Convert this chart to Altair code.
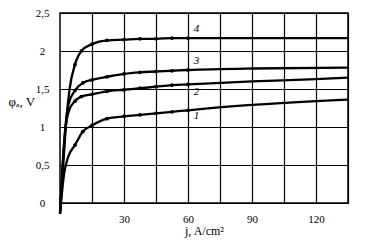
import altair as alt
import pandas as pd

# curve data
x1 = [0, 2, 4, 7, 10.7, 15, 22, 30, 37.5, 45, 52.5, 60, 90, 120, 135]
y1 = [-0.14, 0.40, 0.62, 0.76, 0.94, 1.02, 1.11, 1.14, 1.16, 1.18, 1.20, 1.22, 1.29, 1.34, 1.36]
x2 = [0, 1.3, 2.5, 4, 7, 10, 15, 22, 30, 37.5, 45, 52.5, 60, 90, 120, 135]
y2 = [-0.14, 0.50, 0.95, 1.20, 1.34, 1.40, 1.43, 1.47, 1.49, 1.51, 1.53, 1.55, 1.56, 1.60, 1.63, 1.65]
x3 = [0, 1.2, 2.5, 4, 7, 10.7, 15, 22, 30, 37.5, 45, 52.5, 60, 90, 135]
y3 = [-0.14, 0.50, 1.00, 1.30, 1.48, 1.58, 1.62, 1.66, 1.70, 1.72, 1.73, 1.74, 1.75, 1.77, 1.78]
x4 = [0, 1.5, 3, 4.5, 7, 10, 15, 22, 30, 37.5, 45, 52.5, 60, 90, 135]
y4 = [-0.14, 0.50, 1.10, 1.50, 1.82, 2.00, 2.09, 2.14, 2.15, 2.16, 2.16, 2.17, 2.17, 2.17, 2.17]

curve_names = ["1", "2", "3", "4"]
label_x = [64, 64, 64, 64]
label_y = [1.15, 1.46, 1.87, 2.29]
marker_max_x = 60

rows = []
for name, xs, ys in zip(curve_names, [x1, x2, x3, x4], [y1, y2, y3, y4]):
    for xv, yv in zip(xs, ys):
        rows.append({"curve": name, "j": xv, "phi": yv})
df = pd.DataFrame(rows)
labels = pd.DataFrame({"curve": curve_names, "j": label_x, "phi": label_y})

FONT = "Liberation Serif"

xscale = alt.Scale(domain=[0, 135], nice=False, zero=False)
yscale = alt.Scale(domain=[0, 2.5], nice=False, zero=False)

xaxis = alt.Axis(
    values=[15, 30, 45, 60, 75, 90, 105, 120, 135],
    labelExpr="datum.value % 30 == 0 ? datum.label : ''",
    title="j, A/cm²", titleFont=FONT, titleFontSize=12, titleFontWeight="normal",
    titleColor="black", titlePadding=1,
    labelFont=FONT, labelFontSize=11, labelColor="black", labelPadding=10,
    labelOverlap=False,
    ticks=False, domain=False, grid=True, gridColor="black", gridWidth=1.2, gridOpacity=1,
)
yaxis = alt.Axis(
    values=[0, 0.5, 1, 1.5, 2, 2.5], format="~g",
    labelExpr="replace(datum.label, '.', ',')",
    title="φₐ, V", titleFont=FONT, titleFontSize=13, titleFontWeight="normal",
    titleColor="black", titleAngle=0, titleAlign="left", titleBaseline="middle",
    titleX=-52, titleY=88,
    labelFont=FONT, labelFontSize=11, labelColor="black", labelAlign="center",
    labelPadding=18, labelBaseline="middle", labelOverlap=False, labelBound=False,
    ticks=False, domain=False, grid=True, gridColor="black", gridWidth=1.2, gridOpacity=1,
)

X = alt.X("j:Q", scale=xscale, axis=xaxis)
Y = alt.Y("phi:Q", scale=yscale, axis=yaxis)

base = alt.Chart(df)
lines = base.mark_line(color="black", strokeWidth=2.3, interpolate="monotone", clip=False).encode(
    x=X, y=Y, detail="curve:N",
)
pts = base.transform_filter(
    (alt.datum.j >= 7) & (alt.datum.j <= marker_max_x)
).mark_point(filled=True, color="black", size=14, opacity=1).encode(x=X, y=Y)
txt = alt.Chart(labels).mark_text(
    font=FONT, fontSize=11, fontStyle="italic", color="black"
).encode(x=X, y=Y, text="curve:N")

chart = (lines + pts + txt).properties(
    width=288, height=190,
    autosize=alt.AutoSizeParams(type="none"),
    padding={"left": 52, "top": 5, "right": 20, "bottom": 38},
    background="white",
).configure_view(stroke="black", strokeWidth=1.5)

chart.save("out.html", embed_options={"renderer": "svg", "actions": False})
